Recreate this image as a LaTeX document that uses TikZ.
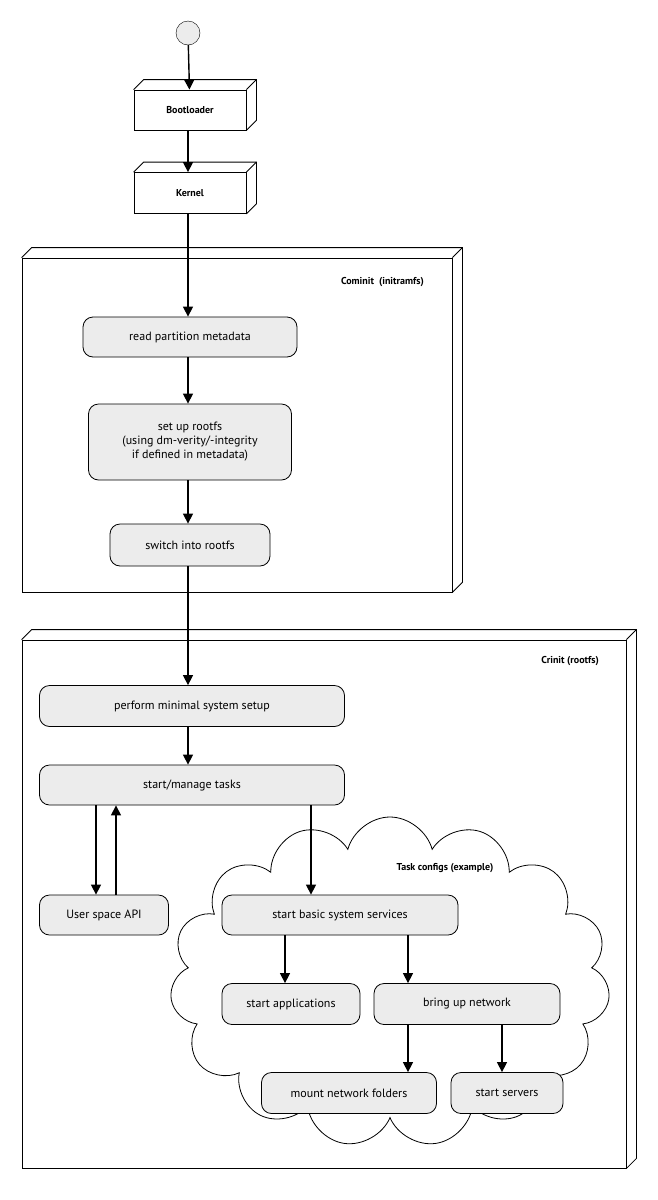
\documentclass[tikz,border=0pt]{standalone}
\usepackage{fontspec}
\setmainfont{PT Sans}
\usetikzlibrary{arrows.meta, positioning, shapes.symbols, calc}
\tikzset{%
	every step/.style={
		draw, thick, fill=gray!15, rounded corners=10pt,
		align=center, inner sep=2pt
	},
	every box/.style={
		draw, thick, fill=white, font=\bfseries
	},
	flow/.style={
		-{Triangle[length=10pt,width=10pt]}, line width=1.4pt
	},
}
% back edges of a 3d box
\newcommand{\boxdepth}[2][10]{%
	\draw[thick] (#2.north west) -- ++(#1,-#1) -| ($(#2.south east)+(#1,-#1)$) -- (#2.south east);
	\draw[thick] (#2.north east) -- ++(#1,-#1);
}
\begin{document}
\begin{tikzpicture}[x=1pt, y=-1pt, font=\fontsize{12}{14}\selectfont]
	\useasboundingbox (0,0) rectangle (657,1200);
	
	% containers
	\node [every box/.try, minimum width=430, minimum height=334] (cominit) at (237,425) {};
	\boxdepth{cominit}
	\node [anchor=north east, font=\bfseries] (cominit-l) at (cominit.north east) [xshift=-25pt, yshift=-16pt] {Cominit\ \ (initramfs)};
	
	\node [every box/.try, minimum width=604, minimum height=528] (crinit) at (324,904) {};
	\boxdepth{crinit}
	\node [anchor=north east, font=\bfseries] (crinit-l) at (crinit.north east) [xshift=-24pt, yshift=-13pt] {Crinit (rootfs)};
	
	\node [cloud, cloud puffs=15, cloud ignores aspect, draw, thick, fill=white,
		minimum width=440, minimum height=330] (cloud) at (390,982) {};
	\node [font=\bfseries] (cloud-l) at (445,868) {Task configs (example)};
	
	% start and kernel boxes
	\node [circle, draw, fill=gray!15, minimum size=24pt, inner sep=0] (start) at (188,33) {};
	\node [every box/.try, minimum width=112, minimum height=40] (boot) at (190,110) {Bootloader};
	\boxdepth{boot}
	\node [every box/.try, minimum width=112, minimum height=41] (kernel) at (190,193) {Kernel};
	\boxdepth{kernel}
	
	% steps
	\node [every step/.try, minimum width=214, minimum height=40] (meta) at (190,337) {read partition metadata};
	\node [every step/.try, minimum width=203, minimum height=76] (rootfs) at (190,442) {set up rootfs\\(using dm-verity/-integrity\\if defined in metadata)};
	\node [every step/.try, minimum width=160, minimum height=42] (switch) at (190,545) {switch into rootfs};
	\node [every step/.try, minimum width=305, minimum height=41] (setup) at (192,706) {perform minimal system setup};
	\node [every step/.try, minimum width=305, minimum height=40] (tasks) at (192,785) {start/manage tasks};
	\node [every step/.try, minimum width=129, minimum height=40] (api) at (104,915) {User space API};
	\node [every step/.try, minimum width=236, minimum height=40] (basic) at (340,915) {start basic system services};
	\node [every step/.try, minimum width=138, minimum height=41] (apps) at (291,1004) {start applications};
	\node [every step/.try, minimum width=186, minimum height=41] (net) at (467,1004) {bring up network};
	\node [every step/.try, minimum width=175, minimum height=41] (mount) at (349,1093) {mount network folders};
	\node [every step/.try, minimum width=112, minimum height=41] (serv) at (507,1093) {start servers};
	
	% connectors
	\draw [flow] (start) -- (boot);
	\draw [flow] (boot.south -| start) -- (kernel.north -| start);
	\draw [flow] (kernel.south -| start) -- (meta.north -| start);
	\draw [flow] (meta.south -| start) -- (rootfs.north -| start);
	\draw [flow] (rootfs.south -| start) -- (switch.north -| start);
	\draw [flow] (switch.south -| start) -- (setup.north -| start);
	\draw [flow] (setup.south -| start) -- (tasks.north -| start);
	\draw [flow] (tasks.south -| 96,0) -- (api.north -| 96,0);
	\draw [flow] (api.north -| 116,0) -- (tasks.south -| 116,0);
	\draw [flow] (tasks.south -| 311,0) -- (basic.north -| 311,0);
	\draw [flow] (basic.south -| 285,0) -- (apps.north -| 285,0);
	\draw [flow] (basic.south -| 408,0) -- (net.north -| 408,0);
	\draw [flow] (net.south -| 408,0) -- (mount.north -| 408,0);
	\draw [flow] (net.south -| 502,0) -- (serv.north -| 502,0);
	
\end{tikzpicture}
\end{document}
